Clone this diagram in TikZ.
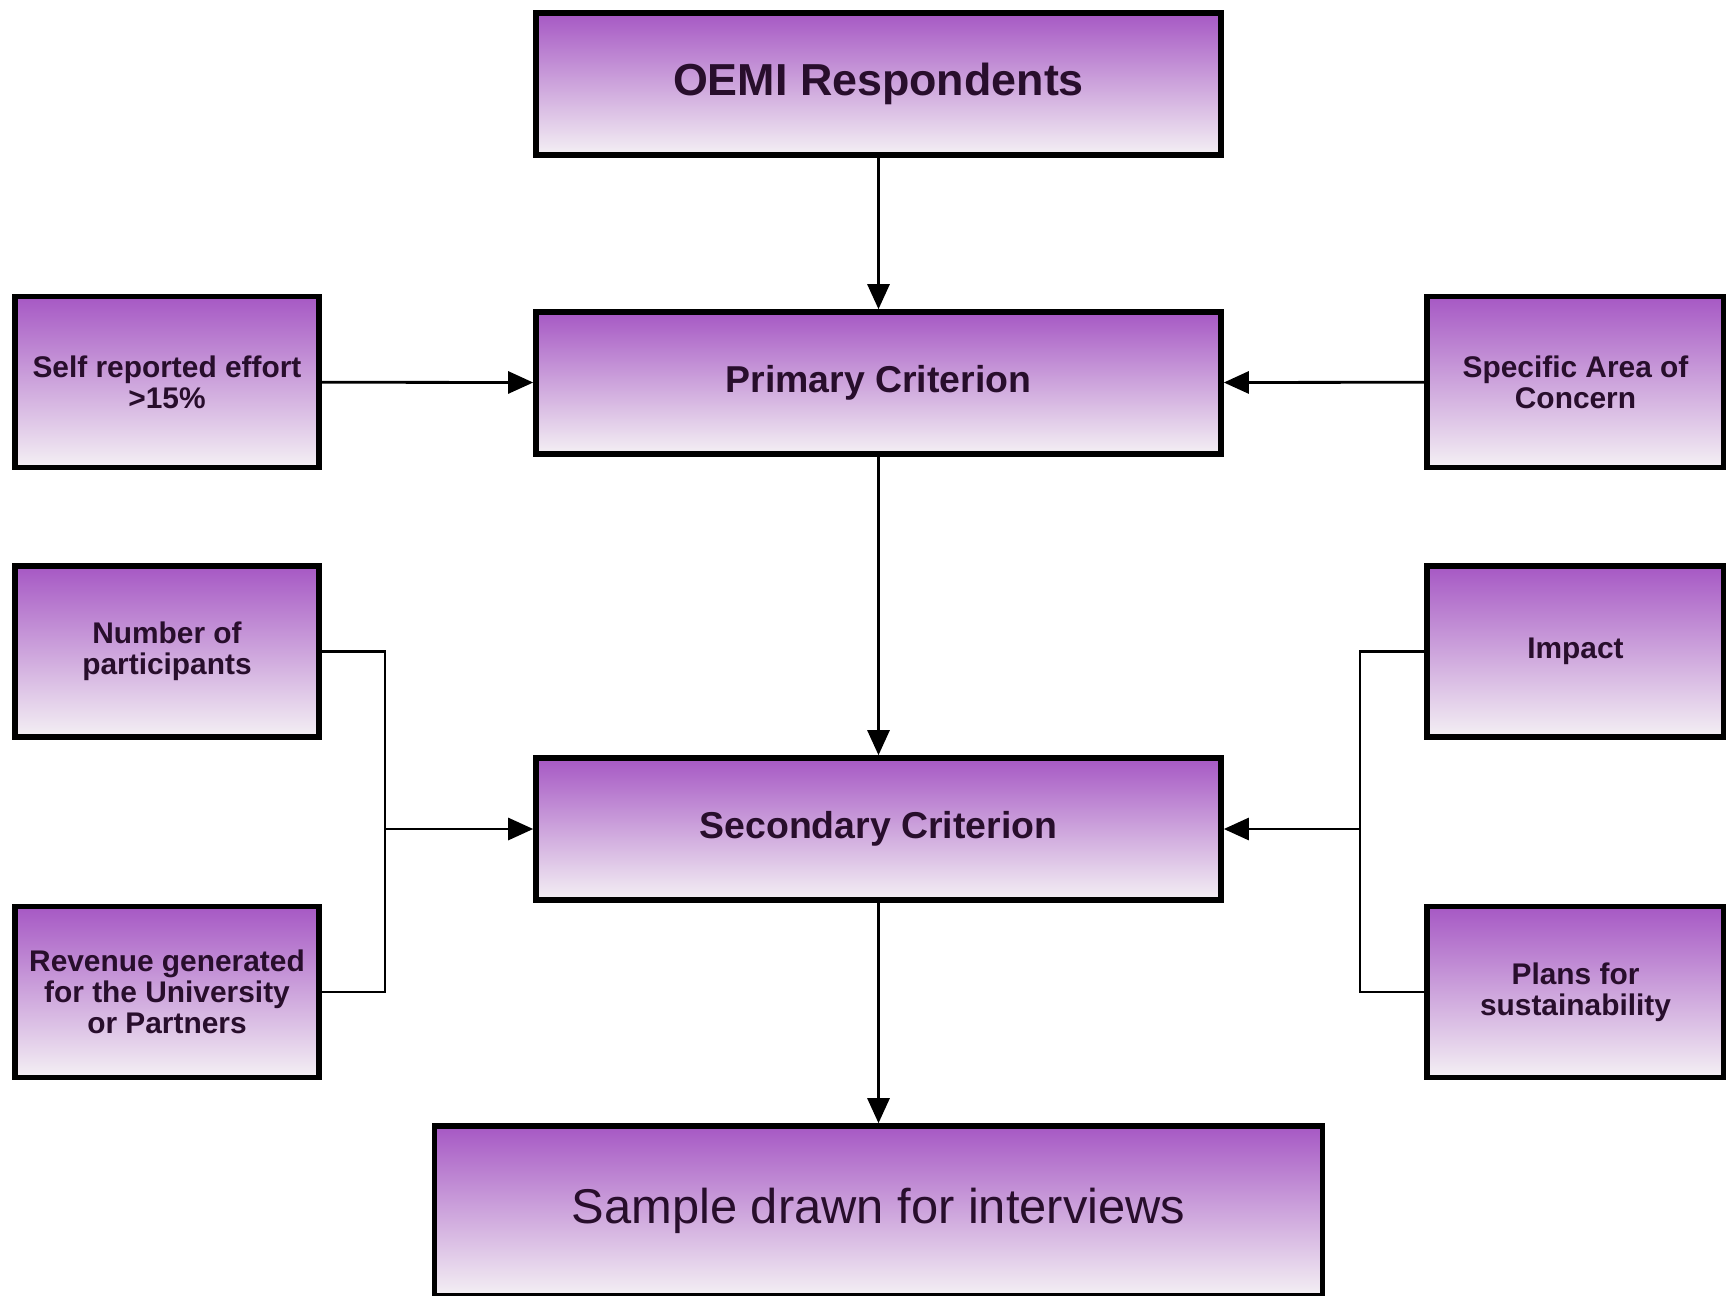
\documentclass[tikz,border=0pt]{standalone}
\usepackage{fontspec}
\setmainfont{Liberation Sans}
\usetikzlibrary{positioning,arrows.meta}
\definecolor{boxtop}{RGB}{166,88,196}
\definecolor{boxmid}{RGB}{204,156,216}
\definecolor{boxbot}{RGB}{244,240,244}
\definecolor{boxtext}{RGB}{40,14,44}
\begin{document}
\begin{tikzpicture}[>={Triangle[length=5mm,width=4.4mm]},
        box/.style = {draw, line width=3.2pt, top color=boxtop, middle color=boxmid,
                bottom color=boxbot, align=center, text=boxtext, inner sep=1mm},
        mainbox/.style = {box, minimum width=137mm, minimum height=28.4mm,
                font=\bfseries\fontsize{21.3}{24}\selectfont},
        sidebox/.style = {box, minimum width=60mm, minimum height=34.2mm,
                font=\bfseries\fontsize{17}{17.5}\selectfont},
        link/.style = {line width=1.6pt},
    ]
        \path[use as bounding box, clip] (0,0) rectangle (34.52,-25.92);

        % main column
        \node[mainbox, font=\bfseries\fontsize{25.5}{28}\selectfont] (oemi) at (17.57,-1.68) {OEMI Respondents};
        \node[mainbox] (primary) at (17.57,-7.66) {Primary Criterion};
        \node[mainbox] (secondary) at (17.57,-16.58) {Secondary Criterion};
        \node[box, minimum width=177.6mm, minimum height=34mm,
              font=\fontsize{27.8}{30}\selectfont] (sample) at (17.57,-24.22) {Sample drawn for interviews};

        % criteria on the sides
        \node[sidebox, minimum width=60.8mm] (effort) at (3.34,-7.64) {Self reported effort\\>15\%};
        \node[sidebox, minimum width=59.4mm] (concern) at (31.51,-7.64) {Specific Area of\\Concern};
        \node[sidebox, minimum width=60.8mm] (participants) at (3.34,-13.03) {Number of\\participants};
        \node[sidebox, minimum width=60.8mm] (revenue) at (3.34,-19.84) {Revenue generated\\for the University\\or Partners};
        \node[sidebox, minimum width=59.4mm] (impact) at (31.51,-13.03) {Impact};
        \node[sidebox, minimum width=59.4mm] (plans) at (31.51,-19.84) {Plans for\\sustainability};

        \coordinate (ljoin) at (7.7,-16.58);
        \coordinate (rjoin) at (27.2,-16.58);

        \draw[link,->] (oemi) -- (primary);
        \draw[link,->] (primary) -- (secondary);
        \draw[link,->] (secondary) -- (sample);
        \draw[link,->] (effort) -- (primary);
        \draw[link,->] (concern) -- (primary);
        \draw[link] (participants.east) -| (ljoin);
        \draw[link] (revenue.east) -| (ljoin);
        \draw[link,->] (ljoin) -- (secondary.west);
        \draw[link] (impact.west) -| (rjoin);
        \draw[link] (plans.west) -| (rjoin);
        \draw[link,->] (rjoin) -- (secondary.east);
    \end{tikzpicture}
\end{document}
